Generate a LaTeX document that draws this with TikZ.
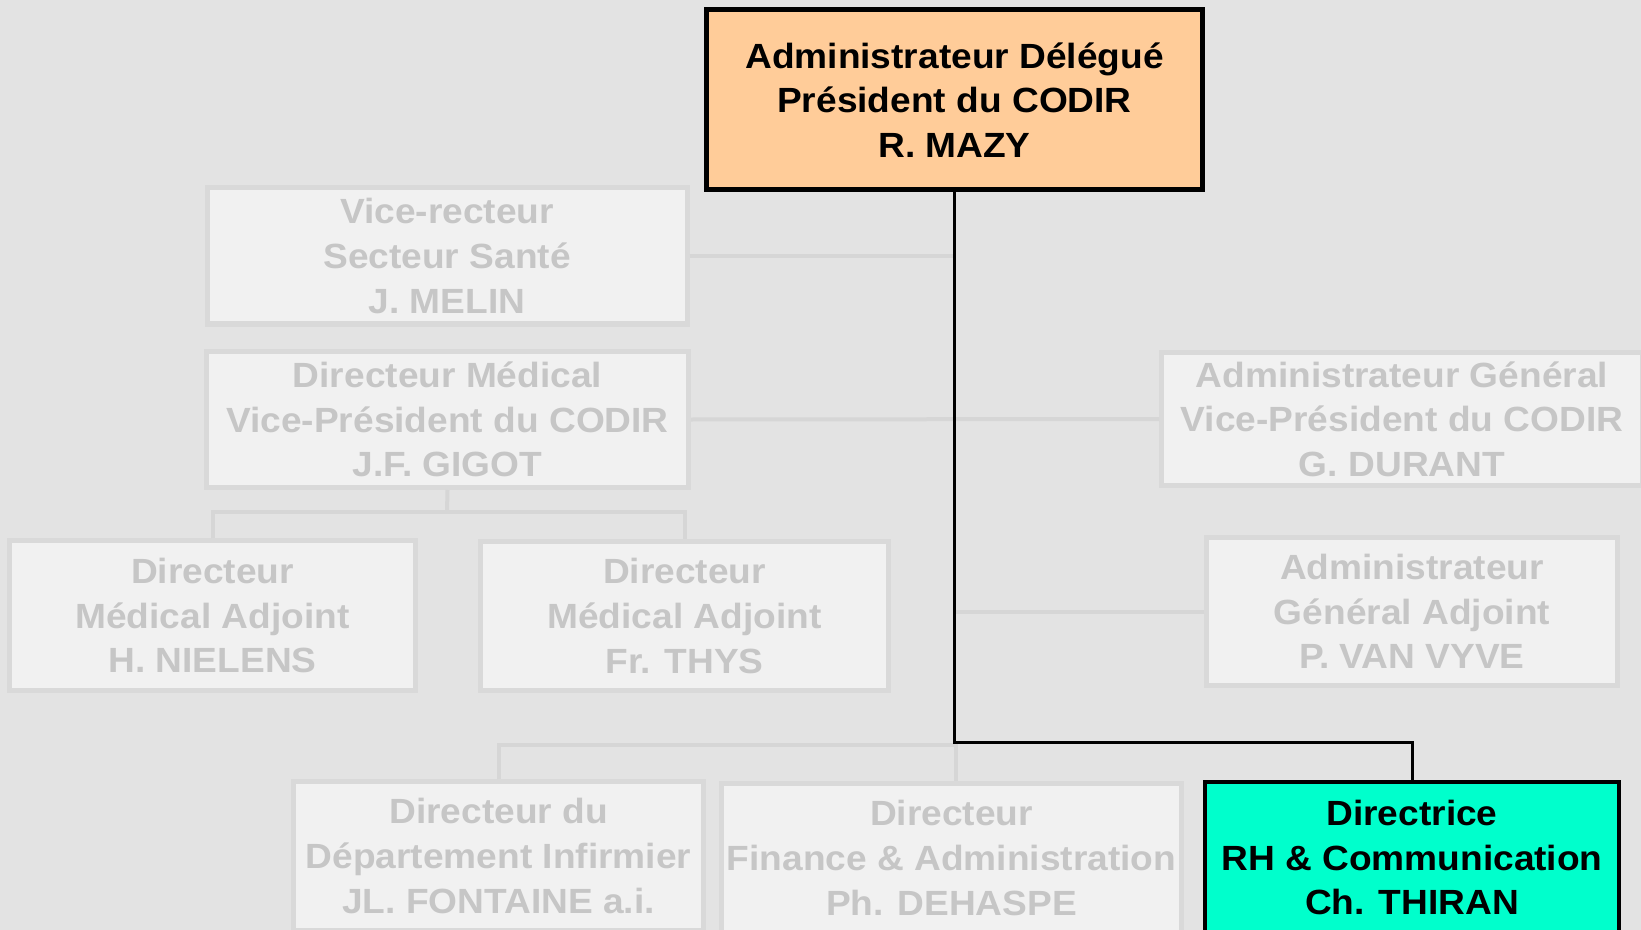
\documentclass[tikz,border=0pt]{standalone}
\usepackage{fontspec}
\setmainfont[FakeStretch=1.06]{Liberation Sans}
\usetikzlibrary{positioning}
\definecolor{bgray}{HTML}{E3E3E3}
\definecolor{fadefill}{HTML}{F1F1F1}
\definecolor{fadedraw}{HTML}{D9D9D9}
\definecolor{fadetext}{HTML}{C6C6C6}
\definecolor{fadeline}{HTML}{D6D6D6}
\definecolor{chefcol}{HTML}{FFCC99}
\definecolor{rhcol}{HTML}{00FFCC}

\begin{document}
\begin{tikzpicture}[x=0.5pt, y=-0.5pt,
        post/.style={align=center, inner sep=0pt, font=\bfseries\fontsize{17.5}{22.3}\selectfont},
        faded/.style={post, draw=fadedraw, fill=fadefill, line width=2.5pt, text=fadetext},
        boss/.style={post, draw=black, line width=2.5pt, text=black},
        link/.style={draw=fadeline, line width=2pt},
        chain/.style={draw=black, line width=1.5pt}]
    \fill[bgray] (0,0) rectangle (1641,930);
    \useasboundingbox (0,0) rectangle (1641,930);
    % direction
    \node[boss, fill=chefcol, minimum width=248pt, minimum height=90pt] (chef) at (954.5,100) {Administrateur Délégué\\Président du CODIR\\R. MAZY};
    % left column
    \node[faded, minimum width=240pt, minimum height=68pt] (vr) at (447,256) {Vice-recteur\\Secteur Santé\\J. MELIN};
    \node[faded, minimum width=241pt, minimum height=68pt] (dm) at (447.5,419.5) {Directeur Médical\\Vice-Président du CODIR\\J.F. GIGOT};
    \node[faded, minimum width=203pt, minimum height=75pt] (nie) at (212.5,615.5) {Directeur\\Médical Adjoint\\H. NIELENS};
    \node[faded, minimum width=204pt, minimum height=74.5pt] (thys) at (684.5,616) {Directeur\\Médical Adjoint\\Fr. THYS};
    % right column
    \node[faded, minimum width=240.5pt, minimum height=66.5pt] (ag) at (1402,419) {Administrateur Général\\Vice-Président du CODIR\\G. DURANT};
    \node[faded, minimum width=205.5pt, minimum height=74pt] (aga) at (1412,611.5) {Administrateur\\Général Adjoint\\P. VAN VYVE};
    % bottom row
    \node[faded, minimum width=205pt, minimum height=74.5pt] (fon) at (498.5,856) {Directeur du\\Département Infirmier\\JL. FONTAINE a.i.};
    \node[faded, minimum width=230pt, minimum height=74.5pt] (deh) at (951.5,858) {Directeur\\Finance \& Administration\\Ph. DEHASPE};
    \node[boss, fill=rhcol, line width=2pt, minimum width=207pt, minimum height=75.5pt] (thi) at (1412,857.5) {Directrice\\RH \& Communication\\Ch. THIRAN};

    \coordinate (dmjoin) at (447,512);
    \coordinate (lowjoin) at (956,745);
    \coordinate (rhjoin) at (956,742);

    \draw[link] (vr.east) -- (vr.east -| chef.south);
    \draw[link] (dm.east) -- (ag.west);
    \draw[link] (aga.west) -- (aga.west -| chef.south);
    \draw[link] (dm.south) -- (dmjoin);
    \draw[link] (nie.north) |- (dmjoin) -| (thys.north);
    \draw[link] (fon.north) |- (lowjoin) -- (lowjoin |- deh.north);
    \draw[chain] (chef.south) -- (chef.south |- rhjoin) -| (thi.north);
\end{tikzpicture}
\end{document}
